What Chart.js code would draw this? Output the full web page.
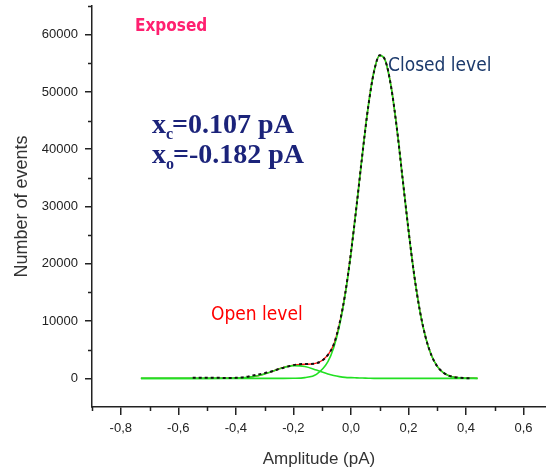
<!DOCTYPE html>
<html>
<head>
<meta charset="utf-8">
<script src="https://cdn.jsdelivr.net/npm/chart.js@4.4.1/dist/chart.umd.min.js"></script>
<style>
  html, body { margin: 0; padding: 0; background: #fff; }
  #wrap { width: 546px; height: 472px; position: relative; }
</style>
</head>
<body>
<div id="wrap"><canvas id="histChart"></canvas></div>
<script>
// measured amplitude histogram (black)
const dataX = [-0.55, -0.52, -0.49, -0.46, -0.43, -0.40, -0.37, -0.34, -0.31, -0.28, -0.25, -0.22, -0.19, -0.16, -0.13,
  -0.10, -0.08, -0.06, -0.04, -0.02, 0, 0.02, 0.04, 0.06, 0.08, 0.10, 0.12, 0.14, 0.16, 0.18, 0.20, 0.22, 0.24,
  0.26, 0.28, 0.30, 0.32, 0.34, 0.36, 0.38, 0.40, 0.42];
const dataY = [120, 110, 120, 100, 60, 90, 200, 520, 800, 1150, 1650, 2050, 2400, 2500, 2550,
  3100, 4100, 5900, 9500, 14800, 21900, 30300, 39200, 47400, 53500, 56400, 55400, 50800, 43500, 34700, 25900, 18000, 11700,
  7100, 4000, 2100, 1050, 480, 210, 90, 40, 30];

// fitted curves
const fitX = [-0.73, -0.6, -0.5, -0.44, -0.4, -0.36, -0.32, -0.28, -0.24, -0.2, -0.16, -0.12, -0.08, -0.06, -0.04, -0.02,
  0, 0.02, 0.04, 0.06, 0.08, 0.1, 0.12, 0.14, 0.16, 0.18, 0.2, 0.22, 0.24, 0.26, 0.28, 0.3, 0.32, 0.34, 0.36, 0.38, 0.4, 0.44];
const closedY = [0, 0, 0, 0, 0, 0, 0, 0, 2, 18, 129, 707, 2920, 5350, 9160, 14600,
  21770, 30240, 39200, 47400, 53520, 56380, 55410, 50800, 43500, 34700, 25870, 17980, 11660, 7060, 3990, 2100, 1035, 474, 203, 81, 30, 0];
const openY = [0, 0, 0, 9, 45, 172, 500, 1095, 1800, 2230, 2080, 1455, 767, 500, 305, 172,
  120, 90, 60, 30, 0, 0, 0, 0, 0, 0, 0, 0, 0, 0, 0, 0, 0, 0, 0, 0, 0, 0];
const sumY = [0, 0, 0, 9, 45, 172, 500, 1095, 1802, 2300, 2450, 2650, 4100, 5850, 9465, 14772,
  21890, 30330, 39260, 47430, 53520, 56380, 55410, 50800, 43500, 34700, 25870, 17980, 11660, 7060, 3990, 2100, 1035, 474, 203, 81, 30, 0];

const xTickLabels = ['-0,8', '-0,6', '-0,4', '-0,2', '0,0', '0,2', '0,4', '0,6'];
const yTickLabels = ['0', '10000', '20000', '30000', '40000', '50000', '60000'];

const pts = (xs, ys) => xs.map((x, i) => ({ x, y: ys[i] }));
const isMajorX = v => Math.round(v * 10) % 2 === 0;
const isMajorY = v => Math.round(v) >= 0 && Math.round(v) % 10000 === 0;

const extras = {
  id: 'extras',
  afterDraw(chart) {
    const { ctx, scales: { x, y }, chartArea } = chart;
    ctx.save();
    // minor ticks
    ctx.strokeStyle = '#222';
    ctx.lineWidth = 1.5;
    ctx.beginPath();
    x.ticks.forEach(t => {
      if (!isMajorX(t.value)) {
        const px = Math.round(x.getPixelForValue(t.value)) + 0.5;
        ctx.moveTo(px, chartArea.bottom);
        ctx.lineTo(px, chartArea.bottom + 4);
      }
    });
    y.ticks.forEach(t => {
      if (t.value > 0 && !isMajorY(t.value)) {
        const py = Math.round(y.getPixelForValue(t.value)) + 0.5;
        ctx.moveTo(chartArea.left, py);
        ctx.lineTo(chartArea.left - 4, py);
      }
    });
    ctx.stroke();

    // labels
    ctx.textAlign = 'left';
    ctx.textBaseline = 'alphabetic';
    ctx.fillStyle = '#ff2070';
    ctx.font = 'bold 17px "DejaVu Sans Condensed", "DejaVu Sans", sans-serif';
    ctx.fillText('Exposed', 135, 31);
    ctx.fillStyle = '#1c3a6c';
    ctx.font = '19px "DejaVu Sans Condensed", "DejaVu Sans", sans-serif';
    ctx.fillText('Closed level', 388, 71);
    ctx.fillStyle = '#ff0000';
    ctx.fillText('Open level', 211, 320);

    ctx.fillStyle = '#1b237a';
    const big = 'bold 28px "Liberation Serif", serif';
    const small = 'bold 16px "Liberation Serif", serif';
    [['c', '=0.107 pA', 133], ['o', '=-0.182 pA', 163]].forEach(([sub, rest, base]) => {
      let px = 152;
      ctx.font = big;
      ctx.fillText('x', px, base);
      px += ctx.measureText('x').width;
      ctx.font = small;
      ctx.fillText(sub, px, base + 6);
      px += ctx.measureText(sub).width - 1;
      ctx.font = big;
      ctx.fillText(rest, px, base);
    });
    ctx.restore();
  }
};

new Chart(document.getElementById('histChart'), {
  type: 'line',
  data: {
    datasets: [
      { label: 'Data', data: pts(dataX, dataY), borderColor: '#111', borderWidth: 2, borderDash: [3, 3], order: 0 },
      { label: 'Closed', data: pts(fitX, closedY), borderColor: '#22e022', borderWidth: 1.6, order: 1 },
      { label: 'Open', data: pts(fitX, openY), borderColor: '#22e022', borderWidth: 1.6, order: 1 },
      { label: 'Sum', data: pts(fitX, sumY), borderColor: '#ff1010', borderWidth: 1.4, order: 2 },
    ],
  },
  options: {
    animation: false,
    responsive: true,
    maintainAspectRatio: false,
    layout: { padding: { top: 6, right: 0, left: 0, bottom: 0 } },
    elements: { point: { radius: 0 }, line: { cubicInterpolationMode: 'monotone', fill: false } },
    plugins: { legend: { display: false }, tooltip: { enabled: false } },
    scales: {
      x: {
        type: 'linear',
        min: -0.9,
        max: 0.678,
        afterFit: s => { s.height = 65; s.paddingLeft = 0; s.paddingRight = 0; },
        border: { display: true, color: '#222', width: 1.5 },
        grid: { drawOnChartArea: false, tickLength: 8, lineWidth: 1.5,
          tickColor: c => (c.tick && isMajorX(c.tick.value) ? '#222' : 'rgba(0,0,0,0)') },
        ticks: {
          stepSize: 0.1, includeBounds: false, autoSkip: false, maxRotation: 0, padding: 6,
          color: '#222', font: { family: 'Arial, "Liberation Sans", sans-serif', size: 13 },
          callback: v => (isMajorX(v) ? xTickLabels[Math.round(v * 10) / 2 + 4] : ''),
        },
        title: { display: true, text: 'Amplitude (pA)', color: '#333', padding: { top: 0, bottom: 2 },
          font: { family: 'Arial, "Liberation Sans", sans-serif', size: 17 } },
      },
      y: {
        min: -5000,
        max: 65000,
        afterFit: s => { s.width = 92; s.paddingTop = 0; s.paddingBottom = 0; },
        border: { display: true, color: '#222', width: 1.5 },
        grid: { drawOnChartArea: false, tickLength: 7, lineWidth: 1.5,
          tickColor: c => (c.tick && isMajorY(c.tick.value) ? '#222' : 'rgba(0,0,0,0)') },
        ticks: {
          stepSize: 5000, autoSkip: false, padding: 7,
          color: '#222', font: { family: 'Arial, "Liberation Sans", sans-serif', size: 13 },
          callback: v => (isMajorY(v) ? yTickLabels[Math.round(v) / 10000] : ''),
        },
        title: { display: true, text: 'Number of events', color: '#333', padding: { top: 11, bottom: 0 },
          font: { family: 'Arial, "Liberation Sans", sans-serif', size: 18 } },
      },
    },
  },
  plugins: [extras],
});
</script>
</body>
</html>
